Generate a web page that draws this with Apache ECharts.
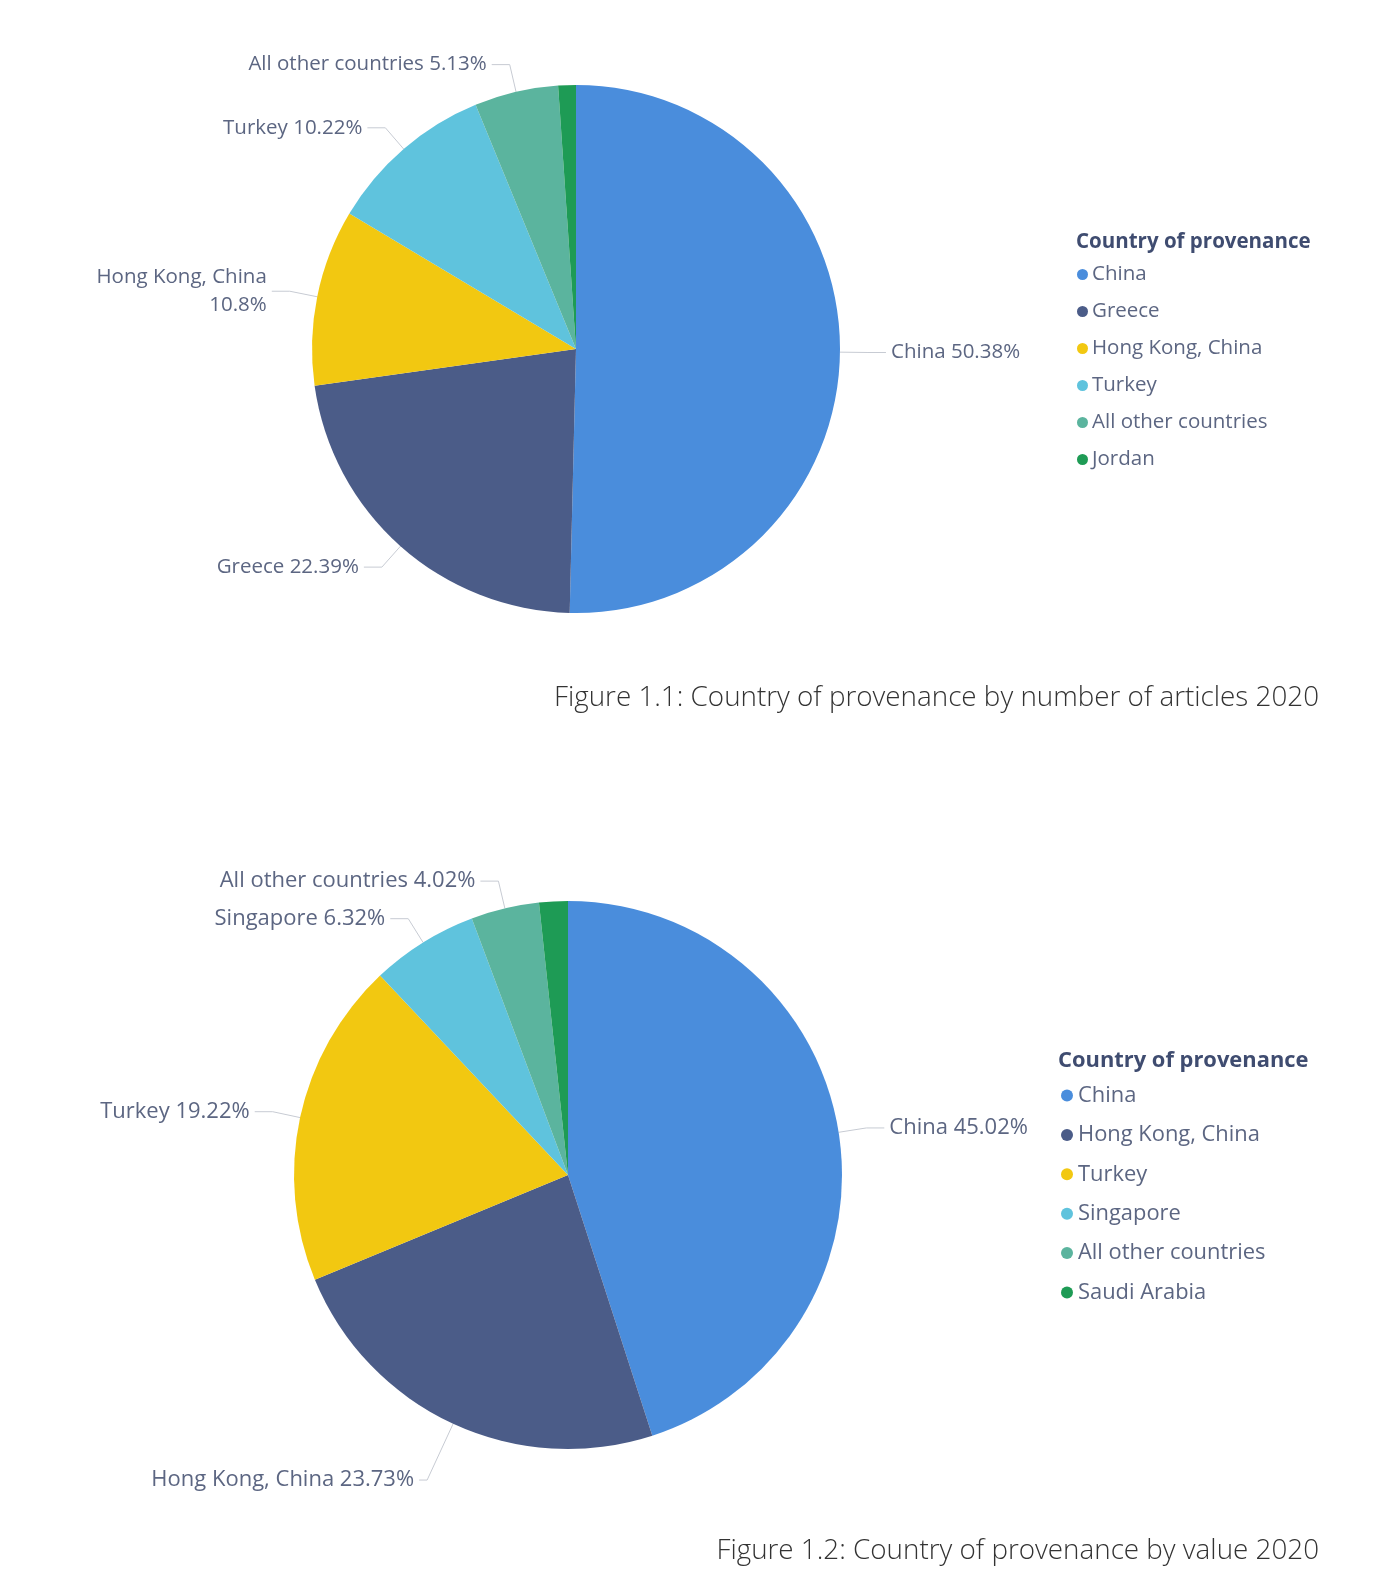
<!DOCTYPE html>
<html>
<head>
<meta charset="utf-8">
<style>
html,body{margin:0;padding:0;background:#fff;overflow:hidden;}
#c{width:1374px;height:1595px;}
</style>
<script src="https://cdn.jsdelivr.net/npm/echarts@6/dist/echarts.min.js"></script>
</head>
<body>
<div id="c"></div>
<script>
// Figure 1.1 data (share of number of articles, %)
const cats1 = ['China', 'Greece', 'Hong Kong, China', 'Turkey', 'All other countries', 'Jordan'];
const vals1 = [50.38, 22.39, 10.8, 10.22, 5.13, 1.08];
// Figure 1.2 data (share of value, %)
const cats2 = ['China', 'Hong Kong, China', 'Turkey', 'Singapore', 'All other countries', 'Saudi Arabia'];
const vals2 = [45.02, 23.73, 19.22, 6.32, 4.02, 1.69];

const palette = ['#4A8DDC', '#4B5C88', '#F2C811', '#5FC3DD', '#5BB49E', '#1E9B55'];
const hidden1 = ['Jordan'];
const hidden2 = ['Saudi Arabia'];
const wrap1 = ['Hong Kong, China'];

const labelColor = '#5C6682';
const font = '"Open Sans", "Noto Sans", sans-serif';

function mkData(cats, vals, hidden, extra) {
  return cats.map((c, i) => {
    const d = {
      name: c,
      value: vals[i],
      itemStyle: { color: palette[i] },
      label: { show: hidden.indexOf(c) < 0 },
      labelLine: { show: hidden.indexOf(c) < 0 }
    };
    if (extra && extra[c]) d.labelLine = Object.assign(d.labelLine, extra[c]);
    return d;
  });
}

const chart = echarts.init(document.getElementById('c'));

function pieSeries(cats, vals, hidden, wrap, center, radius, fs, extra) {
  return {
    type: 'pie',
    center: center,
    radius: radius,
    startAngle: 90,
    clockwise: true,
    avoidLabelOverlap: true,
    itemStyle: { borderWidth: 0 },
    label: {
      show: true,
      position: 'outside',
      color: labelColor,
      fontFamily: font,
      fontSize: fs,
      formatter: function (p) {
        const w = wrap.indexOf(p.name) >= 0;
        return p.name + (w ? '\n' : ' ') + p.value + '%';
      },
      lineHeight: fs + 8
    },
    labelLine: {
      show: true,
      length: 28,
      length2: 18,
      lineStyle: { color: '#C7CBD3', width: 1 }
    },
    emphasis: { disabled: true },
    data: mkData(cats, vals, hidden, extra)
  };
}

function legendData(cats) {
  return cats.map((c, i) => ({ name: c, itemStyle: { color: palette[i] } }));
}

chart.setOption({
  animation: false,
  title: [
    { text: 'Figure 1.1: Country of provenance by number of articles 2020', right: 50, top: 679,
      textStyle: { fontFamily: font, fontWeight: 300, fontSize: 27.8, color: '#333' } },
    { text: 'Figure 1.2: Country of provenance by value 2020', right: 50, top: 1532,
      textStyle: { fontFamily: font, fontWeight: 300, fontSize: 27.8, color: '#333' } },
    { text: 'Country of provenance', left: 1071, top: 227,
      textStyle: { fontFamily: font, fontWeight: 'bold', fontSize: 20.5, color: '#3F4C70' } },
    { text: 'Country of provenance', left: 1053, top: 1045,
      textStyle: { fontFamily: font, fontWeight: 'bold', fontSize: 21.9, color: '#3F4C70' } }
  ],
  legend: [
    {
      data: legendData(cats1),
      orient: 'vertical',
      left: 1072, top: 259,
      icon: 'circle', itemWidth: 11, itemHeight: 11, itemGap: 16,
      textStyle: { fontFamily: font, fontSize: 20.5, color: labelColor, padding: [0, 0, 0, -1], lineHeight: 21 },
      selectedMode: false
    },
    {
      data: legendData(cats2),
      orient: 'vertical',
      left: 1056, top: 1079,
      icon: 'circle', itemWidth: 12, itemHeight: 12, itemGap: 16.4,
      textStyle: { fontFamily: font, fontSize: 21.9, color: labelColor, padding: [0, 0, 0, 0], lineHeight: 23 },
      selectedMode: false
    }
  ],
  series: [
    pieSeries(cats1, vals1, hidden1, wrap1, [576, 349], 264, 20.5),
    pieSeries(cats2, vals2, hidden2, [], [568, 1175], 274, 22, { 'Hong Kong, China': { length: 62, length2: 8 } })
  ]
});
</script>
</body>
</html>
